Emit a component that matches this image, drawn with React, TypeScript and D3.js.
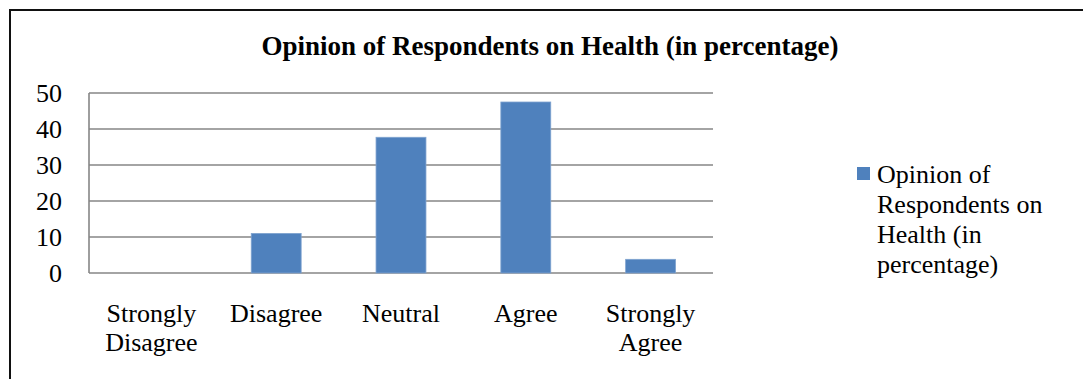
import React from "react";
import * as d3 from "d3";

const categories: string[][] = [
  ["Strongly", "Disagree"],
  ["Disagree"],
  ["Neutral"],
  ["Agree"],
  ["Strongly", "Agree"],
];
const values: number[] = [0, 11, 37.7, 47.5, 3.8];
const yTicks: number[] = [0, 10, 20, 30, 40, 50];
const seriesName = "Opinion of Respondents on Health (in percentage)";
const legendLines: string[] = ["Opinion of", "Respondents on", "Health (in", "percentage)"];
const title = "Opinion of Respondents on Health (in percentage)";

const W = 1083;
const H = 379;
const plot = { left: 89, right: 713, top: 93, bottom: 273 };
const FONT = "'Liberation Serif', 'Times New Roman', serif";
const BAR = "#4F81BD";
const GRID = "#868686";
const FS = 26;

export default function App() {
  const keys = categories.map((c) => c.join(" "));
  const x = d3.scaleBand<string>().domain(keys).range([plot.left, plot.right]).paddingInner(0.6).paddingOuter(0.3);
  const y = d3.scaleLinear().domain([0, 50]).range([plot.bottom, plot.top]);
  const band = (plot.right - plot.left) / keys.length;

  return (
    <svg width={W} height={H} style={{ position: "absolute", left: 0, top: 0, background: "#fff" }}>
      <rect x={0} y={0} width={W} height={H} fill="#fff" />
      {/* outer frame */}
      <path d={`M10,${H} V10 H${W}`} fill="none" stroke="#111" strokeWidth={2} />
      <text x={550} y={55} textAnchor="middle" fontFamily={FONT} fontWeight="bold" fontSize={27} fill="#000">
        {title}
      </text>
      {/* gridlines */}
      {yTicks.map((t) => (
        <line key={t} x1={plot.left} x2={plot.right} y1={y(t)} y2={y(t)} stroke={GRID} strokeWidth={1.6} />
      ))}
      <line x1={plot.left} x2={plot.left} y1={plot.top} y2={plot.bottom} stroke={GRID} strokeWidth={1.6} />
      {yTicks.map((t) => (
        <text key={`l${t}`} x={62} y={y(t)} dy="0.33em" textAnchor="end" fontFamily={FONT} fontSize={FS} fill="#000">
          {t}
        </text>
      ))}
      {/* bars */}
      {values.map((v, i) => {
        const k = keys[i];
        const bx = x(k) as number;
        const bw = x.bandwidth();
        return (
          <rect key={k} x={bx} y={y(v)} width={bw} height={plot.bottom - y(v)} fill={BAR} stroke="#7FA3CF" strokeWidth={0.8} />
        );
      })}
      {/* category labels */}
      {categories.map((lines, i) => {
        const cx = plot.left + band * (i + 0.5);
        return (
          <text key={i} textAnchor="middle" fontFamily={FONT} fontSize={FS} fill="#000">
            {lines.map((ln, j) => (
              <tspan key={j} x={cx} y={322 + j * 29}>
                {ln}
              </tspan>
            ))}
          </text>
        );
      })}
      {/* legend */}
      <rect x={857} y={167} width={13} height={13} fill={BAR} />
      <text fontFamily={FONT} fontSize={FS} fill="#000">
        <title>{seriesName}</title>
        {legendLines.map((ln, j) => (
          <tspan key={j} x={877} y={183 + j * 30}>
            {ln}
          </tspan>
        ))}
      </text>
    </svg>
  );
}
